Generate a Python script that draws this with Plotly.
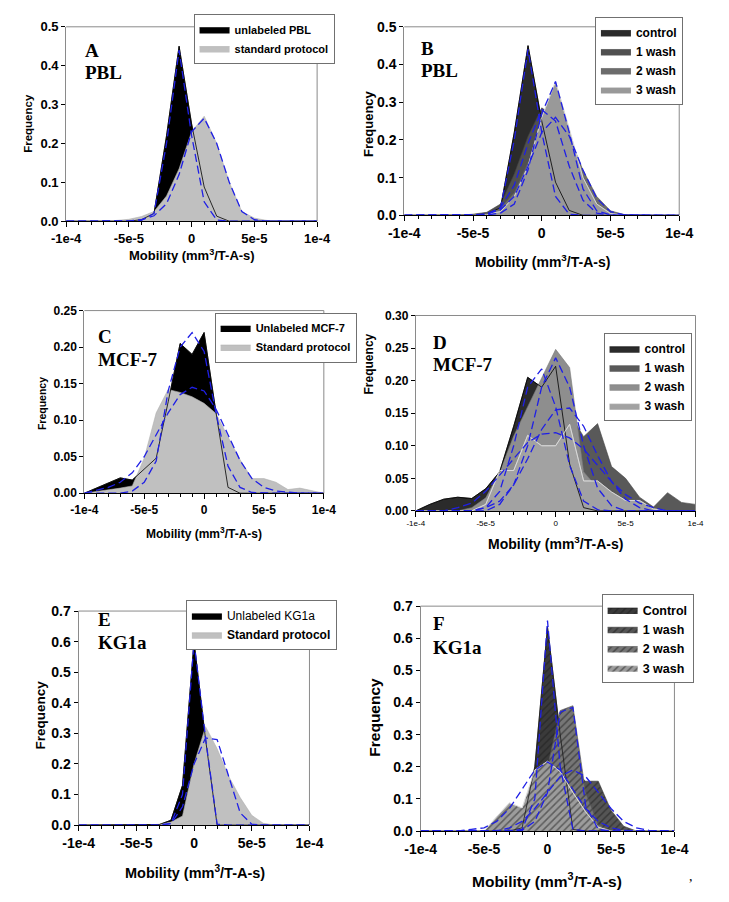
import plotly.graph_objects as go

# page is 729x902; the html body keeps an 8px margin, so the figure is drawn inside it
PAGE_W, PAGE_H, OFF = 729, 902, 8
FW, FH = PAGE_W - 2 * OFF, PAGE_H - 2 * OFF

# ---------------- data ----------------
MOBILITY = [-1e-4, -9e-5, -8e-5, -7e-5, -6e-5, -5e-5, -4e-5, -3e-5, -2e-5, -1e-5, 0,
            1e-5, 2e-5, 3e-5, 4e-5, 5e-5, 6e-5, 7e-5, 8e-5, 9e-5, 1e-4]
X_TICK_VALUES = [-1e-4, -5e-5, 0, 5e-5, 1e-4]
X_TICK_LABELS = ["-1e-4", "-5e-5", "0", "5e-5", "1e-4"]

# Panel A / B : PBL
PBL_UNLABELED = [0, 0, 0, 0, 0, 0, 0.004, 0.02, 0.22, 0.45, 0.25, 0.088, 0.013, 0, 0, 0, 0, 0, 0, 0, 0]
PBL_STANDARD = [0, 0, 0, 0, 0.002, 0.005, 0.012, 0.025, 0.065, 0.135, 0.23, 0.27, 0.2, 0.1, 0.025, 0.008, 0.002, 0, 0, 0, 0]
PBL_FIT_UNLABELED = [0, 0, 0, 0, 0, 0, 0.002, 0.02, 0.2, 0.44, 0.22, 0.05, 0.003, 0, 0, 0, 0, 0, 0, 0, 0]
PBL_FIT_STANDARD = [0, 0, 0, 0, 0, 0.001, 0.004, 0.014, 0.045, 0.12, 0.23, 0.265, 0.2, 0.1, 0.025, 0.004, 0, 0, 0, 0, 0]
PBL_WASH1 = [0, 0, 0, 0, 0, 0.003, 0.008, 0.03, 0.11, 0.21, 0.285, 0.26, 0.19, 0.1, 0.035, 0.008, 0.002, 0, 0, 0, 0]
PBL_WASH2 = [0, 0, 0, 0, 0, 0.002, 0.006, 0.02, 0.06, 0.14, 0.24, 0.26, 0.21, 0.12, 0.05, 0.012, 0.002, 0, 0, 0, 0]
PBL_WASH3 = [0, 0, 0, 0, 0, 0, 0.003, 0.01, 0.05, 0.13, 0.26, 0.355, 0.23, 0.1, 0.03, 0.005, 0, 0, 0, 0, 0]
PBL_FIT_WASH1 = [0, 0, 0, 0, 0, 0, 0.003, 0.02, 0.08, 0.19, 0.28, 0.25, 0.13, 0.04, 0.006, 0, 0, 0, 0, 0, 0]
PBL_FIT_WASH2 = [0, 0, 0, 0, 0, 0.001, 0.004, 0.015, 0.05, 0.13, 0.22, 0.26, 0.21, 0.12, 0.045, 0.01, 0.001, 0, 0, 0, 0]
PBL_FIT_WASH3 = [0, 0, 0, 0, 0, 0, 0.001, 0.006, 0.03, 0.12, 0.27, 0.355, 0.22, 0.07, 0.012, 0.001, 0, 0, 0, 0, 0]

# Panel C : MCF-7
C_UNLABELED = [0, 0.007, 0.015, 0.021, 0.018, 0.033, 0.048, 0.125, 0.205, 0.19, 0.22, 0.11, 0.008, 0, 0, 0, 0, 0, 0, 0, 0]
C_STANDARD = [0, 0.002, 0.004, 0.007, 0.01, 0.048, 0.11, 0.142, 0.138, 0.132, 0.123, 0.109, 0.077, 0.046, 0.02, 0.02, 0.015, 0.005, 0.007, 0.003, 0]
C_FIT_UNLABELED = [0, 0, 0, 0, 0.003, 0.015, 0.044, 0.14, 0.2, 0.22, 0.194, 0.109, 0.037, 0.008, 0.001, 0, 0, 0, 0, 0, 0]
C_FIT_STANDARD = [0, 0.004, 0.008, 0.015, 0.028, 0.05, 0.08, 0.11, 0.135, 0.145, 0.14, 0.115, 0.08, 0.045, 0.02, 0.008, 0.003, 0.001, 0, 0, 0]

# Panel D : MCF-7 washes
D_CONTROL = [0, 0.01, 0.018, 0.021, 0.019, 0.034, 0.06, 0.13, 0.205, 0.19, 0.222, 0.072, 0.005, 0, 0, 0, 0, 0, 0, 0, 0]
D_WASH1 = [0, 0, 0, 0, 0, 0.01, 0.04, 0.07, 0.1, 0.14, 0.16, 0.15, 0.114, 0.134, 0.068, 0.05, 0.021, 0.006, 0.028, 0.013, 0.01]
D_WASH2 = [0, 0, 0, 0, 0.005, 0.02, 0.06, 0.115, 0.16, 0.205, 0.248, 0.22, 0.06, 0.035, 0.025, 0.012, 0.004, 0, 0, 0, 0]
D_WASH3 = [0, 0, 0, 0, 0, 0.01, 0.062, 0.062, 0.116, 0.1, 0.1, 0.133, 0.046, 0.046, 0.029, 0.016, 0.016, 0.003, 0, 0, 0]
D_FIT_CONTROL = [0, 0, 0, 0, 0, 0.005, 0.03, 0.1, 0.19, 0.218, 0.16, 0.07, 0.015, 0.002, 0, 0, 0, 0, 0, 0, 0]
D_FIT_WASH1 = [0, 0, 0, 0, 0, 0.005, 0.015, 0.04, 0.08, 0.125, 0.155, 0.158, 0.13, 0.085, 0.045, 0.018, 0.005, 0, 0, 0, 0]
D_FIT_WASH2 = [0, 0, 0, 0, 0, 0, 0.01, 0.04, 0.1, 0.19, 0.235, 0.19, 0.1, 0.035, 0.008, 0, 0, 0, 0, 0, 0]
D_FIT_WASH3 = [0, 0, 0, 0.005, 0.012, 0.03, 0.055, 0.08, 0.105, 0.118, 0.12, 0.112, 0.095, 0.07, 0.045, 0.025, 0.012, 0.005, 0, 0, 0]

# Panel E / F : KG1a
E_UNLABELED = [0, 0, 0, 0, 0, 0, 0, 0.002, 0.016, 0.13, 0.6, 0.28, 0, 0, 0, 0, 0, 0, 0, 0, 0]
E_STANDARD = [0, 0, 0, 0, 0, 0, 0, 0.003, 0.01, 0.03, 0.2, 0.322, 0.25, 0.16, 0.09, 0.032, 0.006, 0, 0, 0, 0]
E_FIT_UNLABELED = [0, 0, 0, 0, 0, 0, 0, 0, 0.005, 0.1, 0.6, 0.285, 0.003, 0, 0, 0, 0, 0, 0, 0, 0]
E_FIT_STANDARD = [0, 0, 0, 0, 0, 0, 0, 0, 0.005, 0.06, 0.2, 0.285, 0.28, 0.156, 0.04, 0.003, 0, 0, 0, 0, 0]
F_CONTROL = [0, 0, 0, 0, 0, 0, 0, 0, 0.01, 0.2, 0.635, 0.3, 0.005, 0, 0, 0, 0, 0, 0, 0, 0]
F_WASH1 = [0, 0, 0, 0, 0, 0, 0, 0.005, 0.02, 0.06, 0.12, 0.17, 0.19, 0.155, 0.155, 0.065, 0.015, 0, 0, 0, 0]
F_WASH2 = [0, 0, 0, 0, 0, 0, 0, 0, 0.003, 0.05, 0.2, 0.375, 0.39, 0.12, 0.02, 0, 0, 0, 0, 0, 0]
F_WASH3 = [0, 0, 0, 0, 0, 0, 0.045, 0.088, 0.072, 0.19, 0.217, 0.185, 0.12, 0.06, 0.012, 0, 0, 0, 0, 0, 0]
F_FIT_CONTROL = [0, 0, 0, 0, 0, 0, 0, 0, 0.005, 0.1, 0.655, 0.2, 0.005, 0, 0, 0, 0, 0, 0, 0, 0]
F_FIT_WASH1 = [0, 0, 0, 0, 0, 0, 0, 0.01, 0.03, 0.07, 0.12, 0.17, 0.19, 0.17, 0.12, 0.07, 0.03, 0.01, 0.002, 0, 0]
F_FIT_WASH2 = [0, 0, 0, 0, 0, 0, 0, 0, 0.002, 0.03, 0.12, 0.37, 0.385, 0.08, 0.005, 0, 0, 0, 0, 0, 0]
F_FIT_WASH3 = [0, 0, 0, 0, 0.005, 0.01, 0.03, 0.07, 0.13, 0.19, 0.215, 0.19, 0.13, 0.07, 0.03, 0.01, 0.002, 0, 0, 0, 0]

# ---------------- styling ----------------
SANS = "Liberation Sans, Arial, sans-serif"
SERIF = "Liberation Serif, Times New Roman, serif"
FIT_COLOR = "#1f1fe6"
FRAME = "#8a8a8a"


def px_x(p):
    return (p - OFF) / FW


def px_y(p):
    return 1 - (p - OFF) / FH


panels = [
    dict(box=(52, 19, 314, 217), yrange=0.5, dtick=0.1, fmt=".1f", tick=13, xtick=dict(size=13, weight="bold"),
         series=[("unlabeled PBL", PBL_UNLABELED, "#000000", "#000000", False),
                 ("standard protocol", PBL_STANDARD, "#c0c0c0", "#b0b0b0", False)],
         line_on_top=[0],
         fits=[PBL_FIT_UNLABELED, PBL_FIT_STANDARD],
         legend=(185, 6), lfont=11,
         labels=("A", "PBL", 70, 43, 66),
         xtitle=(183, 251, 13), ytitle=(12, 117, 11.5)),
    dict(box=(405, 19, 692, 211), yrange=0.5, dtick=0.1, fmt=".1f", tick=14, xtick=dict(size=14, weight="bold"),
         series=[("control", PBL_UNLABELED, "#2b2b2b", "#000000", False),
                 ("1 wash", PBL_WASH1, "#505050", "#404040", False),
                 ("2 wash", PBL_WASH2, "#6c6c6c", "#5a5a5a", False),
                 ("3 wash", PBL_WASH3, "#999999", "#d8d8d8", False)],
         line_on_top=[0, 3],
         fits=[PBL_FIT_UNLABELED, PBL_FIT_WASH1, PBL_FIT_WASH2, PBL_FIT_WASH3],
         legend=(604, 9), lfont=12,
         labels=("B", "PBL", 420, 41, 64),
         xtitle=(549, 257, 14), ytitle=(367, 117, 13)),
    dict(box=(71, 308, 321, 494), yrange=0.25, dtick=0.05, fmt=".2f", tick=12, xtick=dict(size=12, weight="bold"),
         series=[("Unlabeled MCF-7", C_UNLABELED, "#000000", "#000000", False),
                 ("Standard protocol", C_STANDARD, "#c0c0c0", "#b0b0b0", False)],
         line_on_top=[0],
         fits=[C_FIT_UNLABELED, C_FIT_STANDARD],
         legend=(207, 310), lfont=11,
         labels=("C", "MCF-7", 83, 334, 358),
         xtitle=(196, 535, 12), ytitle=(27, 403, 10.5)),
    dict(box=(417, 313, 709, 512), yrange=0.30, dtick=0.05, fmt=".2f", tick=12, xtick=dict(size=8, weight="normal"),
         series=[("control", D_CONTROL, "#2b2b2b", "#000000", False),
                 ("1 wash", D_WASH1, "#595959", "#4a4a4a", False),
                 ("2 wash", D_WASH2, "#8e8e8e", "#7a7a7a", False),
                 ("3 wash", D_WASH3, "#a2a2a2", "#dedede", False)],
         line_on_top=[0, 3],
         fits=[D_FIT_CONTROL, D_FIT_WASH1, D_FIT_WASH2, D_FIT_WASH3],
         legend=(613, 331), lfont=12,
         labels=("D", "MCF-7", 433, 340, 363),
         xtitle=(563, 545, 14), ytitle=(368, 362, 12)),
    dict(box=(65, 614, 306, 832), yrange=0.7, dtick=0.1, fmt=".1f", tick=14, xtick=dict(size=14, weight="bold"),
         series=[("Unlabeled KG1a", E_UNLABELED, "#000000", "#000000", False),
                 ("<b>Standard protocol</b>", E_STANDARD, "#c0c0c0", "#b0b0b0", False)],
         line_on_top=[0],
         fits=[E_FIT_UNLABELED, E_FIT_STANDARD],
         legend=(177, 603), lfont=12,
         labels=("E", "KG1a", 83, 623, 646),
         xtitle=(186, 880, 14.5), ytitle=(25, 720, 13.5)),
    dict(box=(422, 609, 687, 838), yrange=0.7, dtick=0.1, fmt=".1f", tick=14, xtick=dict(size=14, weight="bold"),
         series=[("Control", F_CONTROL, "#3a3a3a", "#1a1a1a", True),
                 ("1 wash", F_WASH1, "#555555", "#333333", True),
                 ("2 wash", F_WASH2, "#767676", "#555555", True),
                 ("3 wash", F_WASH3, "#9c9c9c", "#e0e0e0", True)],
         line_on_top=[0, 3],
         fits=[F_FIT_CONTROL, F_FIT_WASH1, F_FIT_WASH2, F_FIT_WASH3],
         legend=(611, 597), lfont=12.5,
         labels=("F", "KG1a", 433, 627, 651),
         xtitle=(554, 888, 15.5), ytitle=(374, 722, 15.5)),
]

fig = go.Figure()
annotations = []
shapes = []
layout = {}

for i, p in enumerate(panels):
    n = i + 1
    sfx = "" if n == 1 else str(n)
    xa, ya = "x" + sfx, "y" + sfx
    lg = "legend" + sfx
    x0, y0, x1, y1 = p["box"]

    # filled areas
    for name, vals, fill, lcol, hatch in p["series"]:
        kw = {}
        if hatch:
            kw["fillpattern"] = dict(shape="/", bgcolor=fill, fgcolor="#1c1c1c", size=5, solidity=0.3)
        fig.add_trace(go.Scatter(
            x=MOBILITY, y=vals, mode="lines", name=name,
            line=dict(width=0.6, color=lcol), fill="tozeroy", fillcolor=fill,
            xaxis=xa, yaxis=ya, legend=lg, hoverinfo="skip", **kw))
    # outlines on top
    for k in p["line_on_top"]:
        name, vals, fill, lcol, hatch = p["series"][k]
        fig.add_trace(go.Scatter(
            x=MOBILITY, y=vals, mode="lines", line=dict(width=0.8, color=lcol),
            xaxis=xa, yaxis=ya, showlegend=False, hoverinfo="skip"))
    # fitted curves
    for vals in p["fits"]:
        fig.add_trace(go.Scatter(
            x=MOBILITY, y=vals, mode="lines",
            line=dict(width=1.3, color=FIT_COLOR, dash="8px,4px"),
            xaxis=xa, yaxis=ya, showlegend=False, hoverinfo="skip"))

    layout["xaxis" + sfx] = dict(
        domain=[px_x(x0), px_x(x1)], anchor=ya, range=[-1e-4, 1e-4],
        tickmode="array", tickvals=X_TICK_VALUES, ticktext=X_TICK_LABELS,
        ticks="outside", ticklen=5, tickcolor="black", tickwidth=1,
        minor=dict(tickvals=MOBILITY, ticks="outside", ticklen=3, tickcolor="black", showgrid=False),
        showline=True, linecolor="black", linewidth=1, showgrid=False, zeroline=False,
        tickfont=dict(family=SANS, color="black", **p["xtick"]),
        fixedrange=True)
    layout["yaxis" + sfx] = dict(
        domain=[px_y(y1), px_y(y0)], anchor=xa, range=[0, p["yrange"]],
        tickmode="linear", tick0=0, dtick=p["dtick"], tickformat=p["fmt"],
        ticks="outside", ticklen=4, tickcolor="black",
        showline=True, linecolor=FRAME, linewidth=1, showgrid=False, zeroline=False,
        tickfont=dict(family=SANS, size=p["tick"], color="black", weight="bold"),
        fixedrange=True)

    # top and right frame lines
    shapes.append(dict(type="line", xref="paper", yref="paper",
                       x0=px_x(x0), x1=px_x(x1), y0=px_y(y0), y1=px_y(y0),
                       line=dict(color=FRAME, width=1), layer="above"))
    shapes.append(dict(type="line", xref="paper", yref="paper",
                       x0=px_x(x1), x1=px_x(x1), y0=px_y(y0), y1=px_y(y1),
                       line=dict(color=FRAME, width=1), layer="above"))

    lx, ly = p["legend"]
    layout[lg] = dict(x=px_x(lx), y=px_y(ly), xanchor="left", yanchor="top",
                      bgcolor="white", bordercolor="#707070", borderwidth=1,
                      font=dict(family=SANS, size=p["lfont"], color="black",
                                weight="normal" if n == 5 else "bold"),
                      tracegroupgap=0, itemwidth=30)

    letter, cell, tx, ty1, ty2 = p["labels"]
    for txt, ty in ((letter, ty1), (cell, ty2)):
        annotations.append(dict(text=txt, xref="paper", yref="paper", x=px_x(tx), y=px_y(ty),
                                xanchor="left", yanchor="middle", showarrow=False,
                                font=dict(family=SERIF, size=19, color="black", weight="bold")))
    xtx, xty, xts = p["xtitle"]
    annotations.append(dict(text="Mobility (mm<sup>3</sup>/T-A-s)", xref="paper", yref="paper",
                            x=px_x(xtx), y=px_y(xty), xanchor="center", yanchor="middle",
                            showarrow=False,
                            font=dict(family=SANS, size=xts, color="black", weight="bold")))
    ytx, yty, yts = p["ytitle"]
    annotations.append(dict(text="Frequency", xref="paper", yref="paper", textangle=-90,
                            x=px_x(ytx), y=px_y(yty), xanchor="center", yanchor="middle",
                            showarrow=False,
                            font=dict(family=SANS, size=yts, color="black", weight="bold")))

annotations.append(dict(text=",", xref="paper", yref="paper", x=px_x(704), y=px_y(884),
                        xanchor="center", yanchor="middle", showarrow=False,
                        font=dict(family=SERIF, size=14, color="black")))

fig.update_layout(
    width=FW, height=FH, autosize=False,
    margin=dict(l=0, r=0, t=0, b=0),
    paper_bgcolor="white", plot_bgcolor="white",
    annotations=annotations, shapes=shapes,
    **layout)

fig.write_html("out.html")
